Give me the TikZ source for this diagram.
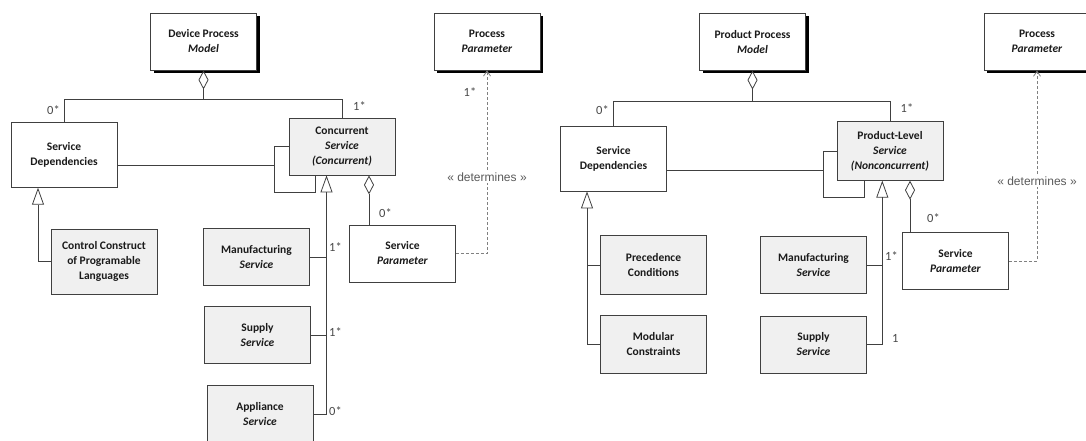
\documentclass[tikz,border=0pt]{standalone}
\usepackage{fontspec}
\setmainfont{Carlito}
\newfontfamily\arialfont{Liberation Sans}
\usetikzlibrary{arrows.meta,shadows}
\definecolor{linegray}{HTML}{404040}
\definecolor{boxgray}{HTML}{F0F0F0}
\definecolor{textgray}{HTML}{1A1A1A}
\definecolor{dashgray}{HTML}{808080}

\begin{document}
\begin{tikzpicture}[x=1pt, y=-1pt]
	\tikzstyle{classbox} = [rectangle, draw=linegray, line width=0.8pt, fill=white, text=textgray, minimum width=106pt, minimum height=57pt, align=center, inner sep=2pt, font=\fontsize{11.5}{15}\selectfont]
	\tikzstyle{topbox}   = [classbox, drop shadow={shadow xshift=3pt, shadow yshift=-3pt, fill=black, opacity=1}]
	\tikzstyle{subbox}   = [classbox, fill=boxgray]
	\tikzstyle{mult}     = [text=textgray!80, inner sep=1pt, font=\fontsize{12.5}{14}\selectfont]
	\tikzstyle{stereo}   = [text=dashgray!70!black, fill=white, inner sep=1pt, font=\arialfont\fontsize{12}{14}\selectfont]
	\tikzstyle{wire}     = [draw=linegray, line width=0.8pt]
	\tikzstyle{gen}      = [wire, -{Triangle[open, length=17pt, width=12pt]}]
	\tikzstyle{agg}      = [wire, -{Diamond[open, length=19pt, width=10pt]}]
	\tikzstyle{dep}      = [draw=dashgray, line width=0.8pt, dash pattern=on 3pt off 2pt, -{Straight Barb[length=5pt, width=7pt]}]

	\useasboundingbox (0,0) rectangle (1086,441);
	\clip (0,0) rectangle (1086,441);

	% model and parameter boxes
	\foreach \name/\x/\y/\first/\second in {dpm/203.5/41.5/Device Process/Model, pp1/487/41.5/Process/Parameter, ppm/752.5/41.7/Product Process/Model, pp2/1037/41.7/Process/Parameter}
		\node[topbox] (\name) at (\x, \y) {\textbf{\first}\\\textbf{\textit{\second}}};

	\foreach \name/\x/\y in {sp1/402.5/253.5, sp2/955.5/261}
		\node[classbox] (\name) at (\x, \y) {\textbf{Service}\\\textbf{\textit{Parameter}}};

	\foreach \name/\x/\y in {sd1/64/154.8, sd2/613.5/158.5}
		\node[classbox, minimum height=65pt] (\name) at (\x, \y) {\textbf{Service}\\\textbf{Dependencies}};

	% service boxes
	\foreach \name/\x/\y/\first in {ms1/256.5/257.3/Manufacturing, ss1/257.5/335/Supply, as1/260/414.3/Appliance, ms2/813.5/265/Manufacturing, ss2/813.5/344.5/Supply}
		\node[subbox] (\name) at (\x, \y) {\textbf{\first}\\\textbf{\textit{Service}}};

	\node[subbox, minimum height=65pt] (cc) at (104, 261.7) {\textbf{Control Construct}\\\textbf{of Programable}\\\textbf{Languages}};
	\node[subbox, minimum height=58.5pt] (pc) at (653.5, 265) {\textbf{Precedence}\\\textbf{Conditions}};
	\node[subbox, minimum height=58.5pt] (mc) at (653.5, 344.5) {\textbf{Modular}\\\textbf{Constraints}};
	\node[subbox] (cs) at (342, 146.5) {\textbf{Concurrent}\\\textbf{\textit{Service}}\\\textbf{\textit{(Concurrent)}}};
	\node[subbox, minimum height=58.5pt] (pls) at (890, 151) {\textbf{Product-Level}\\\textbf{\textit{Service}}\\\textbf{\textit{(Nonconcurrent)}}};

	% left model
	\coordinate (top1) at (203.5, 99.3);
	\draw[agg] (top1) -- (dpm.south);
	\draw[wire] (sd1.north) |- (top1) -| (cs.north);
	\node[mult] at (53.5, 110) {0*};
	\node[mult] at (359.5, 106) {1*};

	\coordinate (loop1) at (274.5, 192.3);
	\draw[wire] (cs.west) -| (loop1) -| ([xshift=-27pt]cs.south);
	\draw[wire] ([yshift=-11pt]sd1.east) -- ([yshift=-11pt]sd1.east -| loop1);

	\draw[gen] (cc.west) -| ([xshift=-26pt]sd1.south);

	\coordinate (trunk1) at ([xshift=-15.5pt]cs.south);
	\draw[gen] (as1.east) -| (trunk1);
	\foreach \from in {ms1, ss1}
		\draw[wire] (\from.east) -- (\from.east -| trunk1);
	\node[mult, anchor=west] at (328, 246.7) {1*};
	\node[mult, anchor=west] at (328, 331.7) {1*};
	\node[mult, anchor=west] at (328, 411) {0*};

	\draw[agg] ([xshift=-33.5pt]sp1.north) -- ([xshift=27pt]cs.south);
	\node[mult, anchor=west] at (378, 213.3) {0*};

	\draw[dep] (sp1.east) -| (pp1.south);
	\node[mult] at (470, 91.7) {1*};
	\node[stereo] at (487, 177.5) {« determines »};

	% right model
	\coordinate (top2) at (752.5, 101.7);
	\draw[agg] (top2) -- (ppm.south);
	\draw[wire] (sd2.north) |- (top2) -| (pls.north);
	\node[mult] at (602.5, 110) {0*};
	\node[mult] at (907, 108) {1*};

	\coordinate (loop2) at (823.3, 197.5);
	\draw[wire] (pls.west) -| (loop2) -| ([xshift=-25.7pt]pls.south);
	\draw[wire] ([yshift=-12pt]sd2.east) -- ([yshift=-12pt]sd2.east -| loop2);

	\coordinate (trunk2) at ([xshift=-26.5pt]sd2.south);
	\draw[gen] (mc.west) -| (trunk2);
	\draw[wire] (pc.west) -- (pc.west -| trunk2);

	\coordinate (trunk3) at ([xshift=-7.7pt]pls.south);
	\draw[gen] (ss2.east) -| (trunk3);
	\draw[wire] (ms2.east) -- (ms2.east -| trunk3);
	\node[mult, anchor=west] at (884, 256) {1*};
	\node[mult, anchor=west] at (891, 338.3) {1};

	\draw[agg] ([xshift=-45.5pt]sp2.north) -- ([xshift=20pt]pls.south);
	\node[mult, anchor=west] at (926, 218.5) {0*};

	\draw[dep] (sp2.east) -| (pp2.south);
	\node[stereo] at (1037, 181.5) {« determines »};
\end{tikzpicture}
\end{document}
